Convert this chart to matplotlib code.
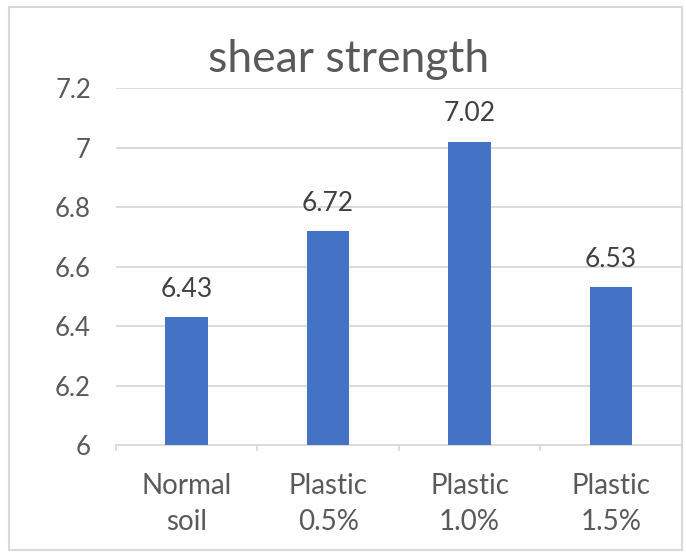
import matplotlib.pyplot as plt
from matplotlib.patches import Rectangle

plt.rcParams['font.family'] = ['Lato', 'DejaVu Sans']

categories = ["Normal\nsoil", "Plastic\n0.5%", "Plastic\n1.0%", "Plastic\n1.5%"]
shear_strength = [6.43, 6.72, 7.02, 6.53]
y_ticks = [6, 6.2, 6.4, 6.6, 6.8, 7, 7.2]
y_tick_labels = ["6", "6.2", "6.4", "6.6", "6.8", "7", "7.2"]

bar_color = "#4472C4"
text_color = "#595959"
grid_color = "#D9D9D9"

fig = plt.figure(figsize=(6.86, 5.57), dpi=100)
ax = fig.add_axes([0.169, 0.201, 0.825, 0.641])

x = range(len(categories))
bars = ax.bar(x, shear_strength, width=0.30, color=bar_color, zorder=3)

# value labels above each bar
for xi, v in zip(x, shear_strength):
    ax.annotate(f"{v:g}", (xi, v), xytext=(0, 11), textcoords="offset points",
                ha="center", va="bottom", fontsize=19, color="#404040")

ax.set_xlim(-0.5, len(categories) - 0.5)
ax.set_ylim(6, 7.2)
ax.set_yticks(y_ticks)
ax.set_yticklabels(y_tick_labels)
ax.set_xticks(list(x))
ax.set_xticklabels(categories, linespacing=1.5)
ax.tick_params(axis="y", length=0, pad=18, labelsize=18.5, labelcolor=text_color)
ax.tick_params(axis="x", length=0, pad=20, labelsize=20, labelcolor=text_color)

# category boundary tick marks below the axis
for b in [i - 0.5 for i in range(len(categories) + 1)]:
    ax.plot([b, b], [6, 5.985], color=grid_color, lw=1.3, clip_on=False, zorder=2)

ax.grid(axis="y", color=grid_color, lw=1.3, zorder=0)
for side in ["top", "right", "left"]:
    ax.spines[side].set_visible(False)
ax.spines["bottom"].set_color(grid_color)
ax.spines["bottom"].set_linewidth(1.3)

fig.text(0.508, 0.871, "shear strength", ha="center", va="baseline",
         fontsize=32, color=text_color)

# chart frame
fig.patches.append(Rectangle((0.013, 0.012), 0.981, 0.975, transform=fig.transFigure,
                             fill=False, edgecolor=grid_color, lw=1.5))

fig.savefig("out.png", dpi=100)
